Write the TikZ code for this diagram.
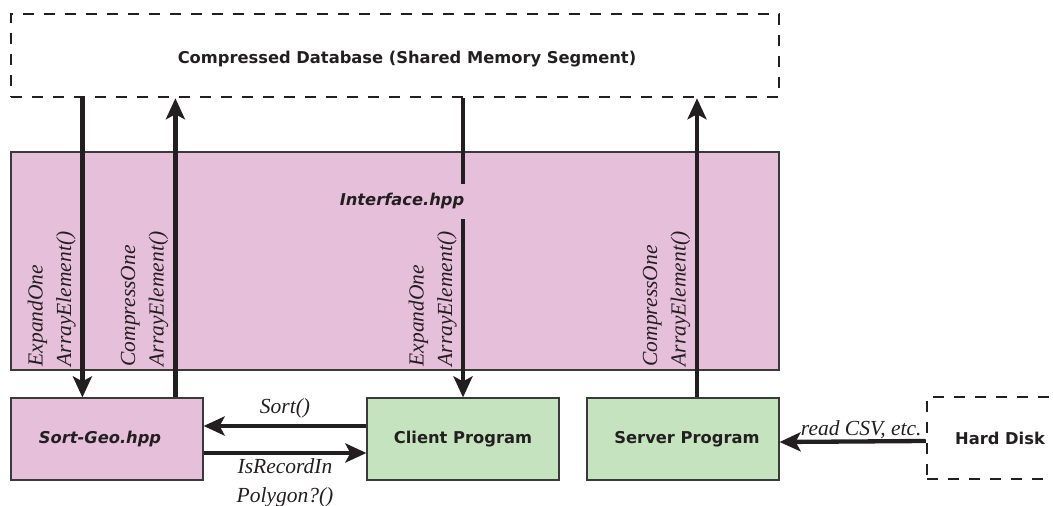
\documentclass[tikz,border=0pt]{standalone}
\usepackage{fontspec}
\setmainfont{Liberation Serif}
\setsansfont{DejaVu Sans}
\usetikzlibrary{arrows.meta,calc}
\definecolor{ink}{HTML}{231F20}
\definecolor{modpink}{HTML}{E6BFDB}
\definecolor{progreen}{HTML}{C5E3BF}
\definecolor{frame}{HTML}{3A3A3A}
\begin{document}
\begin{tikzpicture}[x=1pt,y=-1pt,
  boxfont/.style={font=\fontsize{16.3}{19}\selectfont\sffamily\bfseries, text=ink},
  box/.style={boxfont, draw=frame, line width=1.2pt, inner sep=0pt,
    minimum width=192pt, minimum height=82pt},
  store/.style={boxfont, draw=ink, line width=2.5pt, dash pattern=on 11pt off 10pt,
    inner sep=0pt},
  arr/.style={draw=ink, line width=4.3pt, -{Stealth[length=21pt,width=19pt,inset=5pt]}},
  call/.style={font=\fontsize{21.5}{28.5}\selectfont\itshape, text=ink, inner sep=0pt},
]
\useasboundingbox (0,0) rectangle (1053,506);
\clip (0,0) rectangle (1053,506);

% shared-memory store and disk
\node[store, minimum width=768pt, minimum height=83pt] (db) at (395,55.5) {};
\node[boxfont] (dbtxt) at (407,59) {Compressed Database (Shared Memory Segment)};
\node[store, minimum width=146pt, minimum height=82pt] (hd) at (1000,438) {Hard Disk};

% interface layer
\node[box, fill=modpink, minimum width=768pt, minimum height=218pt] (iface) at (395,261) {};

% modules and programs
\node[box, fill=modpink] (sg) at (107,439) {\hspace*{-14pt}\itshape Sort-Geo.hpp};
\node[box, fill=progreen] (cp) at (463,439) {Client Program};
\node[box, fill=progreen] (sp) at (683,439) {\hspace*{8pt}Server Program};

% columns of the vertical calls
\coordinate (c1) at ([xshift=72pt]sg.north west);
\coordinate (c2) at ([xshift=165pt]sg.north west);
\coordinate (c3) at (cp.north);
\coordinate (c4) at ([xshift=14pt]sp.north);

\draw[arr] (c1 |- db.south) -- (c1);
\draw[arr] (c2) -- (c2 |- db.south);
\draw[arr] (c3 |- db.south) -- (c3);
\draw[arr] (c4) -- (c4 |- db.south);

\path (c1 |- iface.south) ++(-6.5,-4) node[call, rotate=90, anchor=south west, align=left] (l1) {ExpandOne\\ArrayElement()};
\path (c2 |- iface.south) ++(-7,-4) node[call, rotate=90, anchor=south west, align=left] (l2) {CompressOne\\ArrayElement()};
\path (c3 |- iface.south) ++(-6,-4) node[call, rotate=90, anchor=south west, align=left] (l3) {ExpandOne\\ArrayElement()};
\path (c4 |- iface.south) ++(-6.5,-4) node[call, rotate=90, anchor=south west, align=left] (l4) {CompressOne\\ArrayElement()};

\node[boxfont, fill=modpink, inner xsep=1pt, inner ysep=0pt, minimum height=35pt] (ifacelbl) at (402,201) {\itshape Interface.hpp};

% horizontal calls
\draw[arr] ([yshift=13pt]cp.west) -- ([yshift=13pt]sg.east)
  node[call, midway, yshift=18pt] (l5) {Sort()};
\draw[arr] ([yshift=-14pt]sg.east) -- ([yshift=-14pt]cp.west)
  node[call, midway, yshift=-30pt, align=center] (l6) {IsRecordIn\\Polygon?()};
\draw[arr] ([yshift=-3pt]hd.west) -- ([yshift=-3pt]sp.east)
  node[call, pos=0, anchor=base east, xshift=-2pt, yshift=6pt] (l7) {read CSV, etc.};
\end{tikzpicture}
\end{document}
